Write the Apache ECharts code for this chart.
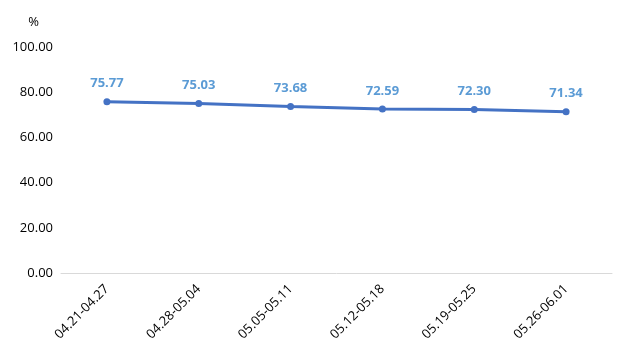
<!DOCTYPE html>
<html><head><meta charset="utf-8">
<script src="https://cdn.jsdelivr.net/npm/echarts@6/dist/echarts.min.js"></script>
<style>html,body{margin:0;padding:0;background:#fff}#c{width:626px;height:356px}</style>
</head><body><div id="c"></div>
<script>
const categories = ['04.21-04.27','04.28-05.04','05.05-05.11','05.12-05.18','05.19-05.25','05.26-06.01'];
const values = [75.77, 75.03, 73.68, 72.59, 72.30, 71.34];
const yTicks = {min: 0, max: 100, interval: 20};
const chart = echarts.init(document.getElementById('c'), null, {renderer: 'canvas'});
chart.setOption({
  animation: false,
  textStyle: {fontFamily: '"Open Sans", "Noto Sans", sans-serif'},
  grid: {left: 61, right: 14, top: 47, bottom: 83},
  xAxis: {
    type: 'category', data: categories, boundaryGap: true,
    axisLine: {lineStyle: {color: '#d9d9d9'}},
    axisTick: {show: false},
    axisLabel: {rotate: 45, color: '#000', fontSize: 13, interval: 0, margin: 14}
  },
  yAxis: {
    type: 'value', min: yTicks.min, max: yTicks.max, interval: yTicks.interval,
    name: '%', nameLocation: 'end', nameGap: 18,
    nameTextStyle: {color: '#000', fontSize: 13, align: 'right', padding: [0, 22, 0, 0]},
    axisLine: {show: false}, axisTick: {show: false},
    splitLine: {show: false},
    axisLabel: {color: '#000', fontSize: 13, margin: 8, formatter: v => v.toFixed(2)}
  },
  series: [{
    type: 'line', data: values,
    symbol: 'circle', symbolSize: 7,
    lineStyle: {color: '#4472C4', width: 3},
    itemStyle: {color: '#4472C4'},
    label: {show: true, position: 'top', distance: 8, color: '#5B9BD5', fontSize: 13, fontWeight: 'bold',
      formatter: p => p.value.toFixed(2)}
  }]
});
</script></body></html>
